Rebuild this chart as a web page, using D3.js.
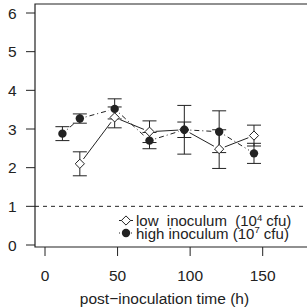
<!DOCTYPE html>
<html>
<head>
<meta charset="utf-8">
<script src="https://cdn.jsdelivr.net/npm/d3@7"></script>
<style>
  body { margin: 0; background: #fff; }
  svg text { font-family: "Liberation Sans", Arial, sans-serif; fill: #222; }
</style>
</head>
<body>
<svg width="307" height="308"></svg>
<script>
// low inoculum (10^4 cfu), open diamonds, solid line
var lowTimes = [24, 48, 72, 96, 120, 144];
var lowMean  = [2.1, 3.3, 2.93, 2.98, 2.48, 2.83];
var lowErr   = [0.31, 0.27, 0.28, 0.63, 0.5, 0.27];

// high inoculum (10^7 cfu), filled circles, dot-dash line
var highTimes = [12, 24, 48, 72, 96, 120, 144];
var highMean  = [2.88, 3.27, 3.52, 2.7, 2.98, 2.93, 2.37];
var highErr   = [0.18, 0.12, 0.26, 0.21, 0.2, 0.54, 0.26];

var xTicks = [0, 50, 100, 150];
var yTicks = [0, 1, 2, 3, 4, 5, 6];
var threshold = 1;

var svg = d3.select('svg');

var x = d3.scaleLinear().domain([0, 150]).range([45, 262.7]);
var y = d3.scaleLinear().domain([0, 6]).range([245, 13]);

var box = {left: 35, top: 4, bottom: 247, right: 310};
var ink = '#222';
var fs = 15.5;

// frame (right side runs off the page)
svg.append('path')
  .attr('d', `M${box.right},${box.top}H${box.left}V${box.bottom}H${box.right}`)
  .attr('fill', 'none')
  .attr('stroke', ink)
  .attr('stroke-width', 1.2);

// y axis ticks + labels
yTicks.forEach(t => {
  svg.append('line')
    .attr('x1', 26).attr('x2', box.left)
    .attr('y1', y(t)).attr('y2', y(t))
    .attr('stroke', ink).attr('stroke-width', 1);
  svg.append('text')
    .attr('x', 16.5).attr('y', y(t) + 5.6)
    .attr('text-anchor', 'end')
    .attr('font-size', fs)
    .text(t);
});

// x axis ticks + labels
xTicks.forEach(t => {
  svg.append('line')
    .attr('x1', x(t)).attr('x2', x(t))
    .attr('y1', box.bottom).attr('y2', 256)
    .attr('stroke', ink).attr('stroke-width', 1);
  svg.append('text')
    .attr('x', x(t)).attr('y', 280.5)
    .attr('text-anchor', 'middle')
    .attr('font-size', fs)
    .text(t);
});

svg.append('text')
  .attr('x', 164.5).attr('y', 303.5)
  .attr('text-anchor', 'middle')
  .attr('font-size', fs)
  .text('post\u2212inoculation time (h)');

// dashed reference line
svg.append('line')
  .attr('x1', box.left).attr('x2', box.right)
  .attr('y1', y(threshold)).attr('y2', y(threshold))
  .attr('stroke', ink).attr('stroke-width', 1)
  .attr('stroke-dasharray', '4,4');

// connecting lines with gaps round the points (type = "b")
function drawLines(times, means, dash) {
  var gap = 6;
  for (var i = 0; i < times.length - 1; i++) {
    var x0 = x(times[i]), y0 = y(means[i]);
    var x1 = x(times[i + 1]), y1 = y(means[i + 1]);
    var len = Math.hypot(x1 - x0, y1 - y0);
    if (len <= 2 * gap) continue;
    var ux = (x1 - x0) / len, uy = (y1 - y0) / len;
    svg.append('line')
      .attr('x1', x0 + ux * gap).attr('y1', y0 + uy * gap)
      .attr('x2', x1 - ux * gap).attr('y2', y1 - uy * gap)
      .attr('stroke', ink).attr('stroke-width', 1)
      .attr('stroke-dasharray', dash);
  }
}

function drawErrors(times, means, errs) {
  times.forEach((t, i) => {
    var cx = x(t), hi = y(means[i] + errs[i]), lo = y(means[i] - errs[i]);
    var g = svg.append('g').attr('stroke', ink).attr('stroke-width', 1);
    g.append('line').attr('x1', cx).attr('x2', cx).attr('y1', hi).attr('y2', lo);
    g.append('line').attr('x1', cx - 7).attr('x2', cx + 7).attr('y1', hi).attr('y2', hi);
    g.append('line').attr('x1', cx - 7).attr('x2', cx + 7).attr('y1', lo).attr('y2', lo);
  });
}

var diamond = d => `M${d[0]},${d[1] - 4.6}L${d[0] + 4.6},${d[1]}L${d[0]},${d[1] + 4.6}L${d[0] - 4.6},${d[1]}Z`;

drawLines(lowTimes, lowMean, null);
drawLines(highTimes, highMean, '1,3,5,3');
drawErrors(lowTimes, lowMean, lowErr);
drawErrors(highTimes, highMean, highErr);

svg.selectAll('.low')
  .data(lowTimes.map((t, i) => [x(t), y(lowMean[i])]))
  .enter().append('path')
  .attr('class', 'low')
  .attr('d', diamond)
  .attr('fill', '#fff').attr('stroke', ink).attr('stroke-width', 1);

svg.selectAll('.high')
  .data(highTimes.map((t, i) => [x(t), y(highMean[i])]))
  .enter().append('circle')
  .attr('class', 'high')
  .attr('cx', d => d[0]).attr('cy', d => d[1]).attr('r', 4.2)
  .attr('fill', ink);

// legend
var legend = svg.append('g');
legend.append('line')
  .attr('x1', 119).attr('x2', 133).attr('y1', 220.5).attr('y2', 220.5)
  .attr('stroke', ink);
legend.append('path').attr('d', diamond([126, 220.5])).attr('fill', '#fff').attr('stroke', ink);
legend.append('line')
  .attr('x1', 119).attr('x2', 133).attr('y1', 233).attr('y2', 233)
  .attr('stroke', ink).attr('stroke-dasharray', '1,2');
legend.append('circle').attr('cx', 126).attr('cy', 233).attr('r', 4.2).attr('fill', ink);

function legendText(yy, label, sup) {
  var t = legend.append('text')
    .attr('x', 136).attr('y', yy)
    .attr('font-size', 15)
    .style('white-space', 'pre');
  t.append('tspan').text(label + '(10');
  t.append('tspan').attr('font-size', 9.5).attr('dy', -5.5).text(sup);
  t.append('tspan').attr('dy', 5.5).text(' cfu)');
}
legendText(226, 'low  inoculum  ', '4');
legendText(238.5, 'high inoculum ', '7');
</script>
</body>
</html>
